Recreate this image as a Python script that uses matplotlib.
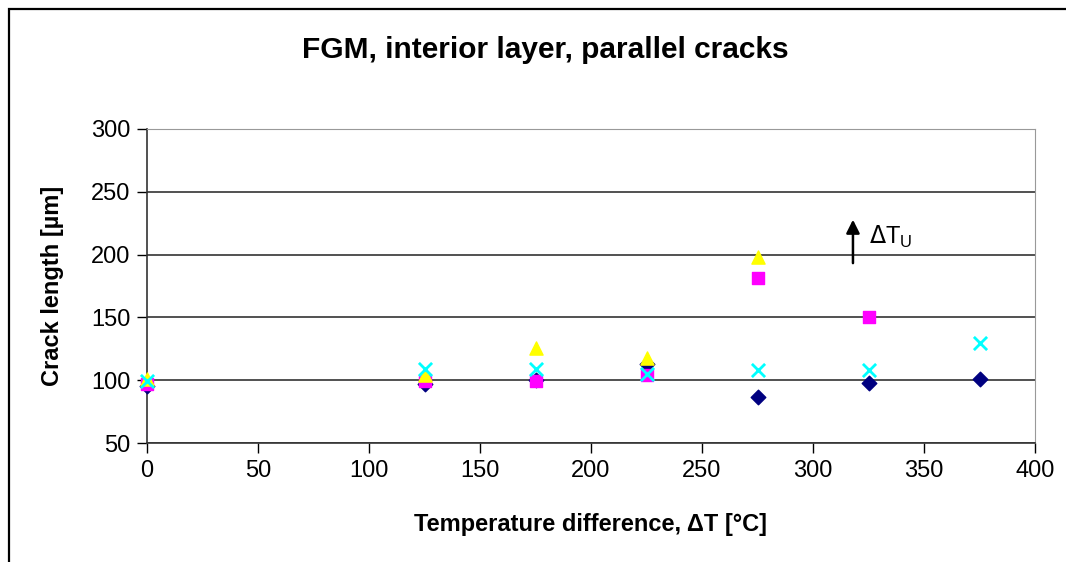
import matplotlib.pyplot as plt
from matplotlib.patches import Rectangle

plt.rcParams['font.family'] = ['Liberation Sans', 'DejaVu Sans']

# temperature difference [°C] for each series
x_diamond = [0, 125, 175, 225, 275, 325, 375]
y_diamond = [95, 97, 100, 113, 87, 98, 101]

x_square = [0, 125, 175, 225, 275, 325]
y_square = [97, 99, 99, 104, 181, 150]

x_triangle = [0, 125, 175, 225, 275]
y_triangle = [101, 104, 126, 118, 198]

x_cross = [0, 125, 175, 225, 275, 325, 375]
y_cross = [99, 109, 109, 105, 108, 108, 130]

x_ticks = [0, 50, 100, 150, 200, 250, 300, 350, 400]
y_ticks = [50, 100, 150, 200, 250, 300]


def main():
    fig = plt.figure(figsize=(10.66, 5.62), dpi=100)
    ax = fig.add_axes([147 / 1066, 1 - 443 / 562, 888 / 1066, 314 / 562])

    ax.set_xlim(0, 400)
    ax.set_ylim(50, 300)
    ax.set_xticks(x_ticks)
    ax.set_yticks(y_ticks)
    ax.yaxis.grid(True, color='#333333', linewidth=1.2)
    ax.set_axisbelow(True)

    for side in ['left', 'bottom']:
        ax.spines[side].set_color('#333333')
        ax.spines[side].set_linewidth(1.2)
    ax.spines['top'].set_color('#999999')
    ax.spines['right'].set_color('#999999')
    ax.tick_params(direction='out', length=7, width=1, labelsize=17, pad=5)

    ax.scatter(x_diamond, y_diamond, marker='D', s=55, color='#000080', zorder=3, clip_on=False)
    ax.scatter(x_square, y_square, marker='s', s=75, color='#FF00FF', zorder=3, clip_on=False)
    ax.scatter(x_triangle, y_triangle, marker='^', s=90, color='#FFFF00', zorder=3, clip_on=False)
    ax.scatter(x_cross, y_cross, marker='x', s=90, color='#00FFFF', linewidths=2, zorder=4, clip_on=False)

    # upper temperature limit marker
    ax.annotate('', xy=(318, 230), xytext=(318, 191),
                arrowprops=dict(arrowstyle='-|>', color='black', lw=1.8, mutation_scale=20))
    ax.text(325, 214, r'$\Delta$T$_\mathregular{U}$', fontsize=17, va='center')

    fig.text(545 / 1066, 1 - 50 / 562, 'FGM, interior layer, parallel cracks',
             fontsize=21.5, fontweight='bold', ha='center', va='center')
    ax.set_xlabel('Temperature difference, ΔT [°C]', fontsize=17, fontweight='bold')
    ax.set_ylabel('Crack length [µm]', fontsize=17, fontweight='bold')
    ax.xaxis.set_label_coords(0.5, -0.222)
    ax.yaxis.set_label_coords(-0.094, 0.5)

    # outer chart frame
    fig.patches.append(Rectangle((9 / 1066, -0.1), 1.2, 1 - 9 / 562 + 0.1,
                                 transform=fig.transFigure, fill=False,
                                 edgecolor='black', linewidth=1.6))

    fig.savefig('out.png', dpi=100)


if __name__ == "__main__":
    main()
